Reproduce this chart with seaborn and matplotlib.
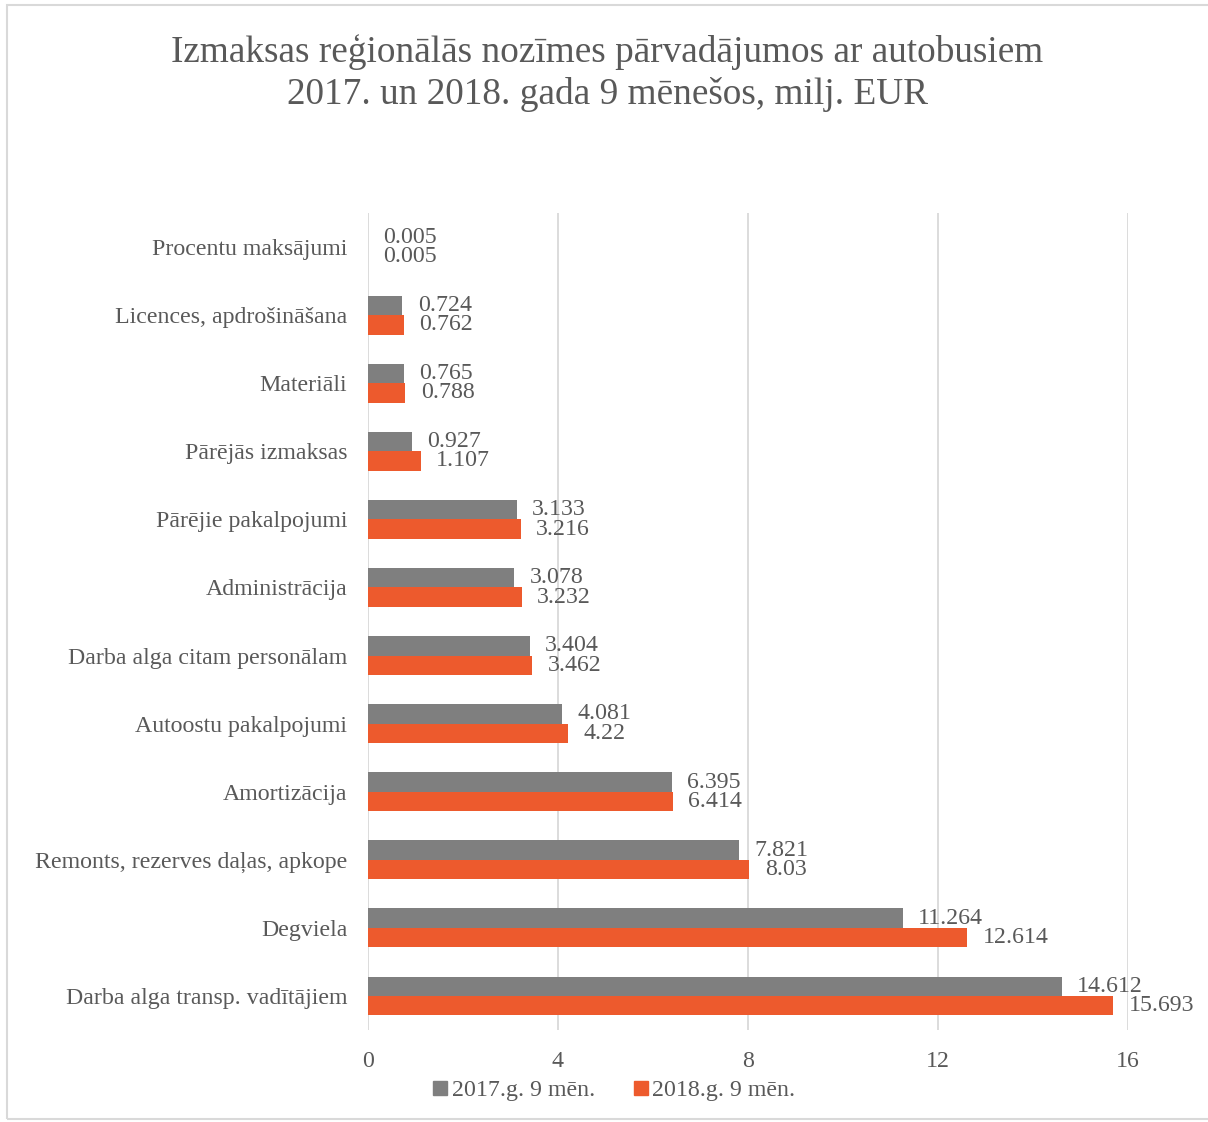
import numpy as np
import pandas as pd
import matplotlib
matplotlib.use("Agg")
import matplotlib.pyplot as plt
import seaborn as sns
from matplotlib.lines import Line2D
from matplotlib.patches import Rectangle

# data (top to bottom as shown)
categories = [
    "Procentu maksājumi",
    "Licences, apdrošināšana",
    "Materiāli",
    "Pārējās izmaksas",
    "Pārējie pakalpojumi",
    "Administrācija",
    "Darba alga citam personālam",
    "Autoostu pakalpojumi",
    "Amortizācija",
    "Remonts, rezerves daļas, apkope",
    "Degviela",
    "Darba alga transp. vadītājiem",
]
vals_2017 = [0.005, 0.724, 0.765, 0.927, 3.133, 3.078, 3.404, 4.081, 6.395, 7.821, 11.264, 14.612]
vals_2018 = [0.005, 0.762, 0.788, 1.107, 3.216, 3.232, 3.462, 4.22, 6.414, 8.03, 12.614, 15.693]
periods = ["2017.g. 9 mēn.", "2018.g. 9 mēn."]
x_ticks = [0, 4, 8, 12, 16]

gray = "#7F7F7F"
orange = "#ED5A2D"
txt = "#595959"
fs = 17.2

df = pd.DataFrame({
    "category": categories * 2,
    "period": [periods[0]] * len(categories) + [periods[1]] * len(categories),
    "value": vals_2017 + vals_2018,
})

sns.set_style("white")
plt.rcParams["font.family"] = ["Liberation Serif", "DejaVu Serif"]

fig = plt.figure(figsize=(12.08, 11.22), dpi=100)
ax = fig.add_axes([368 / 1208, 1 - 1030 / 1122, 760 / 1208, 817 / 1122])

sns.barplot(data=df, y="category", x="value", hue="period", orient="h",
            order=categories, hue_order=periods, palette=[gray, orange],
            saturation=1, width=0.57, linewidth=0, legend=False, ax=ax)

# value labels
for cont, vals in zip(ax.containers, [vals_2017, vals_2018]):
    ax.bar_label(cont, labels=[f"{v:g}" for v in vals], padding=11,
                 fontsize=fs, color=txt)

ax.set_xlim(0, 16)
ax.set_xticks(x_ticks)
ax.set_xlabel("")
ax.set_ylabel("")
ax.xaxis.grid(True, color="#D9D9D9", linewidth=1.3)
ax.set_axisbelow(True)
for s in ax.spines.values():
    s.set_visible(False)
ax.tick_params(axis="x", length=0, pad=15, labelsize=fs, labelcolor=txt)
ax.tick_params(axis="y", length=0, pad=15, labelsize=fs, labelcolor=txt)

# title
fig.text(0.503, 1 - 52 / 1122, "Izmaksas reģionālās nozīmes pārvadājumos ar autobusiem",
         ha="center", va="center", fontsize=26.8, color=txt)
fig.text(0.503, 1 - 95 / 1122, "2017. un 2018. gada 9 mēnešos, milj. EUR",
         ha="center", va="center", fontsize=26.8, color=txt)

# legend
handles = [Line2D([], [], marker="s", linestyle="none", markersize=10, color=c)
           for c in [gray, orange]]
fig.legend(handles, periods, loc="center", bbox_to_anchor=(613 / 1208, 1 - 1090 / 1122),
           ncol=2, frameon=False, fontsize=fs, labelcolor=txt,
           handletextpad=0.1, columnspacing=1.5, handlelength=0.8)

# outer chart border
fig.add_artist(Rectangle((7 / 1208, 3 / 1122), 1.1, 1 - 8 / 1122,
                         transform=fig.transFigure, fill=False,
                         edgecolor="#D9D9D9", linewidth=1.5))

fig.savefig("out.png", dpi=100)
